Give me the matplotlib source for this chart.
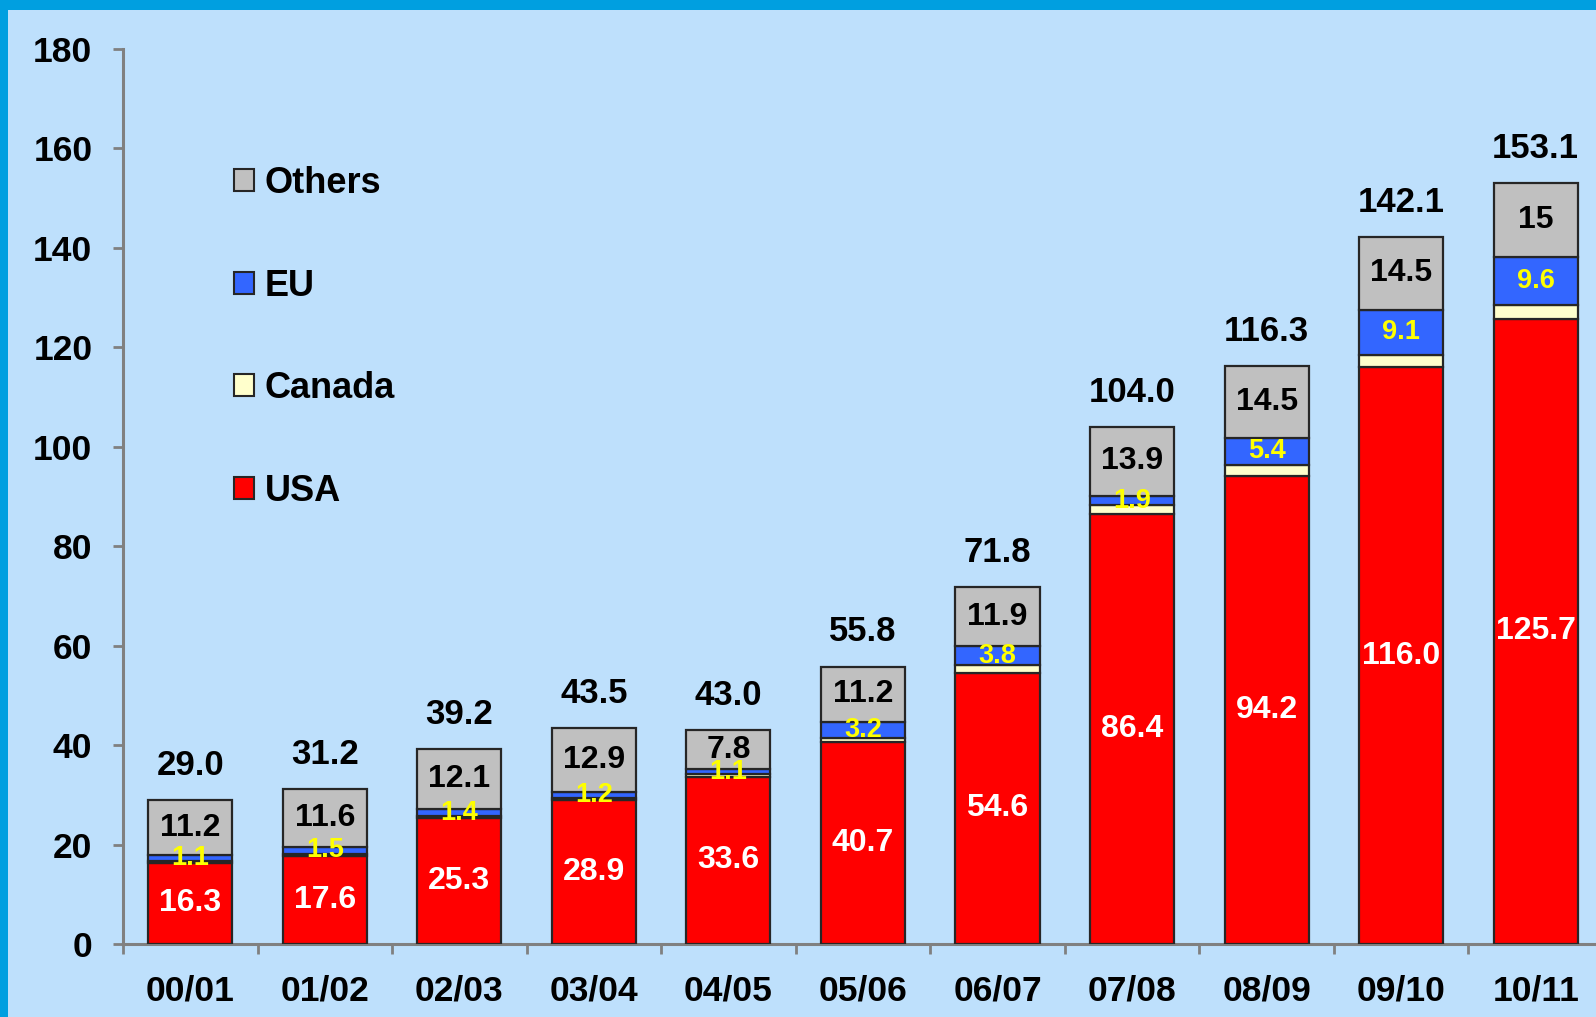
import matplotlib
matplotlib.use("Agg")
import matplotlib.pyplot as plt
from matplotlib.patches import Rectangle, Patch
import numpy as np

plt.rcParams['font.family'] = ['Liberation Sans', 'DejaVu Sans']
plt.rcParams['font.weight'] = 'bold'

years = ["00/01", "01/02", "02/03", "03/04", "04/05", "05/06", "06/07",
         "07/08", "08/09", "09/10", "10/11"]
usa = [16.3, 17.6, 25.3, 28.9, 33.6, 40.7, 54.6, 86.4, 94.2, 116.0, 125.7]
canada = [0.4, 0.5, 0.4, 0.5, 0.5, 0.7, 1.5, 1.8, 2.2, 2.5, 2.8]
eu = [1.1, 1.5, 1.4, 1.2, 1.1, 3.2, 3.8, 1.9, 5.4, 9.1, 9.6]
others = [11.2, 11.6, 12.1, 12.9, 7.8, 11.2, 11.9, 13.9, 14.5, 14.5, 15]
totals = [29.0, 31.2, 39.2, 43.5, 43.0, 55.8, 71.8, 104.0, 116.3, 142.1, 153.1]

BG = "#bee0fc"
FRAME = "#009fe0"
C_USA = "#ff0000"
C_CAN = "#ffffcc"
C_EU = "#3366ff"
C_OTH = "#c0c0c0"
EDGE = "#262626"

W, H = 1596, 1017
fig = plt.figure(figsize=(W / 100, H / 100), dpi=100, facecolor=BG)
ax = fig.add_axes([123 / W, 73 / H, (1603 - 123) / W, (968 - 73) / H])
ax.set_facecolor(BG)

x = np.arange(len(years))
bw = 0.625
usa_a = np.array(usa)
can_a = np.array(canada)
eu_a = np.array(eu)
oth_a = np.array(others)

ax.bar(x, usa_a, bw, color=C_USA, edgecolor=EDGE, linewidth=1.6, zorder=3)
ax.bar(x, can_a, bw, bottom=usa_a, color=C_CAN, edgecolor=EDGE, linewidth=1.6, zorder=3)
ax.bar(x, eu_a, bw, bottom=usa_a + can_a, color=C_EU, edgecolor=EDGE, linewidth=1.6, zorder=3)
ax.bar(x, oth_a, bw, bottom=usa_a + can_a + eu_a, color=C_OTH, edgecolor=EDGE, linewidth=1.6, zorder=3)

for i in range(len(years)):
    ax.text(x[i], usa[i] / 2, f"{usa[i]:.1f}", ha="center", va="center",
            color="white", fontsize=23, fontweight="bold", zorder=5)
    eu_mid = usa[i] + canada[i] + eu[i] / 2
    ax.text(x[i], eu_mid, f"{eu[i]:g}", ha="center", va="center",
            color="#ffff00", fontsize=19.5, fontweight="bold", zorder=5)
    oth_mid = usa[i] + canada[i] + eu[i] + others[i] / 2
    ax.text(x[i], oth_mid, f"{others[i]:g}", ha="center", va="center",
            color="black", fontsize=23, fontweight="bold", zorder=5)
    top = usa[i] + canada[i] + eu[i] + others[i]
    ax.annotate(f"{totals[i]:.1f}", (x[i], top), xytext=(0, 13),
                textcoords="offset points", ha="center", va="bottom",
                fontsize=25, fontweight="bold", color="black", zorder=5)

ax.set_xlim(-0.5, len(years) - 0.5)
ax.set_ylim(0, 180)
ax.set_yticks(np.arange(0, 181, 20))
ax.set_xticks(x)
ax.set_xticklabels(years)
ax.set_xticks(np.arange(-0.5, len(years), 1.0), minor=True)

for s in ["top", "right"]:
    ax.spines[s].set_visible(False)
for s in ["left", "bottom"]:
    ax.spines[s].set_color("#808080")
    ax.spines[s].set_linewidth(2.2)

ax.tick_params(axis="y", which="major", length=7, width=2, color="#808080",
               labelsize=25.5, pad=15)
ax.tick_params(axis="x", which="major", length=0, labelsize=25.5, pad=22)
ax.tick_params(axis="x", which="minor", length=7, width=2, color="#808080")
for lab in ax.get_xticklabels() + ax.get_yticklabels():
    lab.set_fontweight("bold")

handles = [Patch(facecolor=C_OTH, edgecolor=EDGE, linewidth=1.5, label="Others"),
           Patch(facecolor=C_EU, edgecolor=EDGE, linewidth=1.5, label="EU"),
           Patch(facecolor=C_CAN, edgecolor=EDGE, linewidth=1.5, label="Canada"),
           Patch(facecolor=C_USA, edgecolor=EDGE, linewidth=1.5, label="USA")]
ax.legend(handles=handles, loc="upper left",
          bbox_to_anchor=(111 / (1603 - 123), (944 - 166) / (968 - 73)),
          frameon=False, prop={"size": 26, "weight": "bold"},
          handlelength=0.55, handleheight=0.55, handletextpad=0.3,
          labelspacing=1.87, borderaxespad=0, borderpad=0)

fig.add_artist(Rectangle((0, 1 - 10 / H), 1, 10 / H, transform=fig.transFigure,
                         facecolor=FRAME, edgecolor="none", zorder=10))
fig.add_artist(Rectangle((0, 0), 8 / W, 1, transform=fig.transFigure,
                         facecolor=FRAME, edgecolor="none", zorder=10))

fig.savefig("out.png", dpi=100, facecolor=BG)
